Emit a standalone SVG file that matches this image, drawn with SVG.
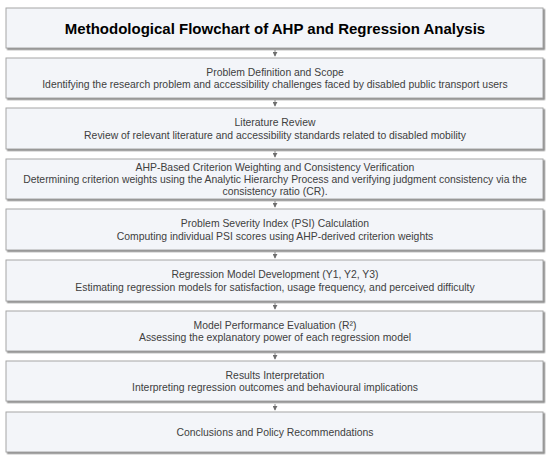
<svg xmlns="http://www.w3.org/2000/svg" width="550" height="460" viewBox="0 0 550 460">
<style>
.box{fill:#F3F5F9;stroke:#A6A6A6;stroke-width:1}
.t{font-family:"Liberation Sans",Arial,sans-serif;font-size:10.4px;fill:#404040;text-anchor:middle}
.title{font-family:"Liberation Sans",Arial,sans-serif;font-size:15px;font-weight:bold;fill:#000;text-anchor:middle}
.c{stroke:#8A8A8A;stroke-width:1;fill:none}
</style>
<defs>
<marker id="ah" viewBox="0 0 6 6" refX="5" refY="3" markerWidth="5" markerHeight="5" orient="auto" markerUnits="userSpaceOnUse">
<path d="M0,0 L6,3 L0,6 z" fill="#6E6E6E"/>
</marker>
<filter id="ds" x="-5%" y="-20%" width="110%" height="150%">
<feDropShadow dx="1.5" dy="1.5" stdDeviation="0.6" flood-color="#7A7A7A" flood-opacity="0.9"/>
</filter>
</defs>
<rect width="550" height="460" fill="#FFFFFF"/>
<g id="connectors">
<line class="c" x1="275" y1="50" x2="275" y2="56" marker-end="url(#ah)"/>
<line class="c" x1="275" y1="100" x2="275" y2="106" marker-end="url(#ah)"/>
<line class="c" x1="275" y1="151" x2="275" y2="157" marker-end="url(#ah)"/>
<line class="c" x1="275" y1="201" x2="275" y2="207" marker-end="url(#ah)"/>
<line class="c" x1="275" y1="252" x2="275" y2="258" marker-end="url(#ah)"/>
<line class="c" x1="275" y1="303" x2="275" y2="309" marker-end="url(#ah)"/>
<line class="c" x1="275" y1="353" x2="275" y2="359" marker-end="url(#ah)"/>
<line class="c" x1="275" y1="404" x2="275" y2="410" marker-end="url(#ah)"/>
</g>
<g id="n0"><rect class="box" filter="url(#ds)" x="6" y="8" width="537" height="40"/>
<text class="title" x="275" y="33.5">Methodological Flowchart of AHP and Regression Analysis</text></g>
<g id="n1"><rect class="box" filter="url(#ds)" x="6" y="58" width="537" height="40"/>
<text class="t" x="275" y="75.5">Problem Definition and Scope</text>
<text class="t" x="275" y="88">Identifying the research problem and accessibility challenges faced by disabled public transport users</text></g>
<g id="n2"><rect class="box" filter="url(#ds)" x="6" y="108" width="537" height="41"/>
<text class="t" x="275" y="126">Literature Review</text>
<text class="t" x="275" y="138.5">Review of relevant literature and accessibility standards related to disabled mobility</text></g>
<g id="n3"><rect class="box" filter="url(#ds)" x="6" y="159" width="537" height="40"/>
<text class="t" x="275" y="171">AHP-Based Criterion Weighting and Consistency Verification</text>
<text class="t" x="275" y="183">Determining criterion weights using the Analytic Hierarchy Process and verifying judgment consistency via the</text>
<text class="t" x="275" y="194.5">consistency ratio (CR).</text></g>
<g id="n4"><rect class="box" filter="url(#ds)" x="6" y="209" width="537" height="41"/>
<text class="t" x="275" y="227">Problem Severity Index (PSI) Calculation</text>
<text class="t" x="275" y="239.5">Computing individual PSI scores using AHP-derived criterion weights</text></g>
<g id="n5"><rect class="box" filter="url(#ds)" x="6" y="260" width="537" height="41"/>
<text class="t" x="275" y="278">Regression Model Development (Y1, Y2, Y3)</text>
<text class="t" x="275" y="290.5">Estimating regression models for satisfaction, usage frequency, and perceived difficulty</text></g>
<g id="n6"><rect class="box" filter="url(#ds)" x="6" y="311" width="537" height="40"/>
<text class="t" x="275" y="328.5">Model Performance Evaluation (R²)</text>
<text class="t" x="275" y="341">Assessing the explanatory power of each regression model</text></g>
<g id="n7"><rect class="box" filter="url(#ds)" x="6" y="361" width="537" height="40"/>
<text class="t" x="275" y="378.5">Results Interpretation</text>
<text class="t" x="275" y="391">Interpreting regression outcomes and behavioural implications</text></g>
<g id="n8"><rect class="box" filter="url(#ds)" x="6" y="412" width="537" height="40"/>
<text class="t" x="275" y="435.5">Conclusions and Policy Recommendations</text></g>
</svg>
